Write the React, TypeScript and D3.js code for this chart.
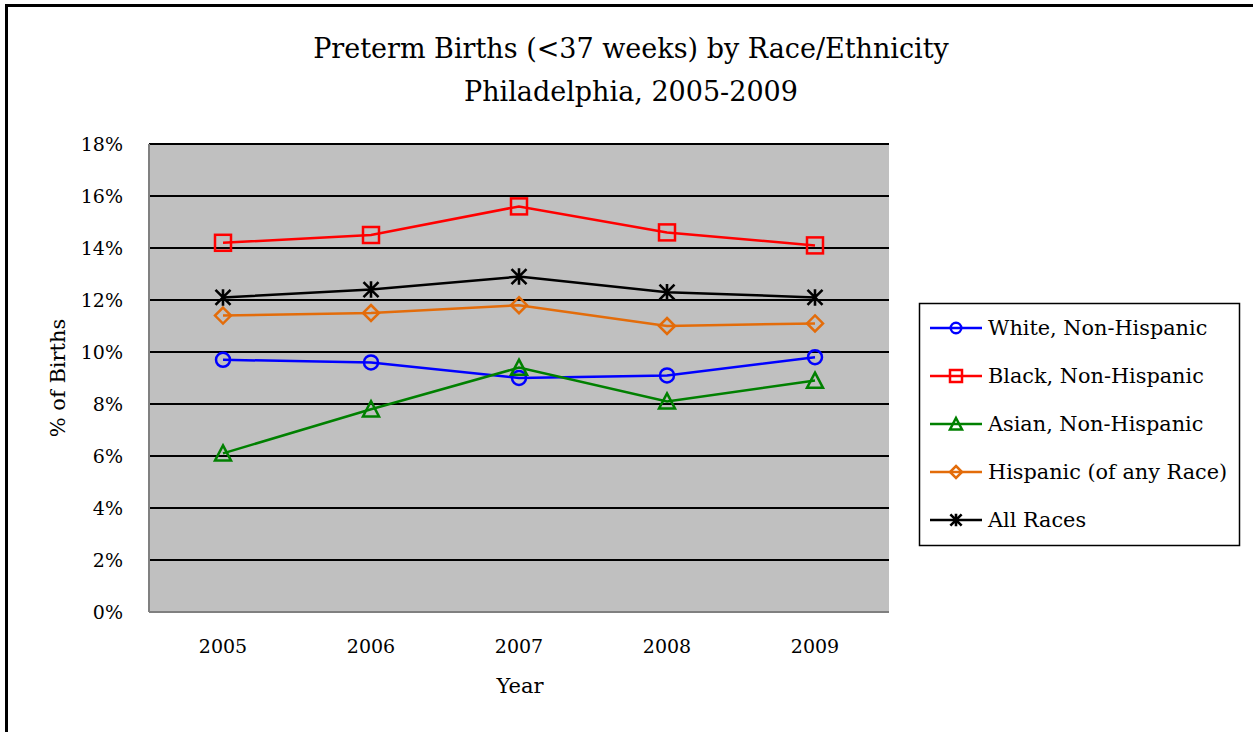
import React from "react";
import * as d3 from "d3";

const years = ["2005", "2006", "2007", "2008", "2009"];
const white = [9.7, 9.6, 9.0, 9.1, 9.8];
const black = [14.2, 14.5, 15.6, 14.6, 14.1];
const asian = [6.1, 7.8, 9.4, 8.1, 8.9];
const hispanic = [11.4, 11.5, 11.8, 11.0, 11.1];
const allRaces = [12.1, 12.4, 12.9, 12.3, 12.1];
const yTicks = [0, 2, 4, 6, 8, 10, 12, 14, 16, 18];

const seriesList = [
  { name: "White, Non-Hispanic", values: white, color: "#0000FF", marker: "circle" },
  { name: "Black, Non-Hispanic", values: black, color: "#FF0000", marker: "square" },
  { name: "Asian, Non-Hispanic", values: asian, color: "#008000", marker: "triangle" },
  { name: "Hispanic (of any Race)", values: hispanic, color: "#E36C0A", marker: "diamond" },
  { name: "All Races", values: allRaces, color: "#000000", marker: "star" },
];

const FONT = "'DejaVu Serif', serif";

function Marker({ type, x, y, color, s = 1 }: { type: string; x: number; y: number; color: string; s?: number }) {
  const sw = 2.5;
  if (type === "circle") return <circle cx={x} cy={y} r={7 * s} fill="none" stroke={color} strokeWidth={sw} />;
  if (type === "square") return <rect x={x - 8 * s} y={y - 8 * s} width={16 * s} height={16 * s} fill="none" stroke={color} strokeWidth={sw} />;
  if (type === "triangle") {
    const h = 8 * s;
    return <path d={`M${x},${y - h}L${x + 8 * s},${y + h * 0.9}L${x - 8 * s},${y + h * 0.9}Z`} fill="none" stroke={color} strokeWidth={sw} />;
  }
  if (type === "diamond") {
    const r = 8 * s;
    return <path d={`M${x},${y - r}L${x + r},${y}L${x},${y + r}L${x - r},${y}Z`} fill="none" stroke={color} strokeWidth={sw} />;
  }
  const r = 7.5 * s;
  return (
    <path
      d={`M${x - r},${y - r}L${x + r},${y + r}M${x - r},${y + r}L${x + r},${y - r}M${x},${y - r * 1.1}L${x},${y + r * 1.1}`}
      stroke={color}
      strokeWidth={2.6}
      fill="none"
    />
  );
}

export default function App() {
  const W = 1253, H = 732;
  const left = 149, right = 889, top = 144, bottom = 612;
  const x = d3.scaleBand().domain(years).range([left, right]);
  const y = d3.scaleLinear().domain([0, 18]).range([bottom, top]);
  const line = d3.line<number>().x((_, i) => x(years[i])! + x.bandwidth() / 2).y((d) => y(d));

  return (
    <svg width={W} height={H} style={{ position: "absolute", left: 0, top: 0, background: "#fff" }}>
      <rect x={0} y={0} width={W} height={H} fill="#fff" />
      <rect x={6.5} y={5.5} width={W + 20} height={H + 20} fill="none" stroke="#000" strokeWidth={3} />
      <text x={631} y={58} textAnchor="middle" fontFamily={FONT} fontSize={27} fill="#000">
        Preterm Births (&lt;37 weeks) by Race/Ethnicity
      </text>
      <text x={631} y={101} textAnchor="middle" fontFamily={FONT} fontSize={27} fill="#000">
        Philadelphia, 2005-2009
      </text>
      <rect x={left} y={top} width={right - left} height={bottom - top} fill="#C0C0C0" />
      {yTicks.map((t) => (
        <g key={t}>
          {t > 0 && <line x1={left} x2={right} y1={y(t)} y2={y(t)} stroke="#000" strokeWidth={2} />}
          <text x={123} y={y(t) + 7} textAnchor="end" fontFamily={FONT} fontSize={19} fill="#000">
            {t}%
          </text>
        </g>
      ))}
      <line x1={left} x2={left} y1={top} y2={bottom} stroke="#808080" strokeWidth={2} />
      <line x1={left} x2={right} y1={bottom} y2={bottom} stroke="#808080" strokeWidth={2} />
      {years.map((yr) => (
        <text key={yr} x={x(yr)! + x.bandwidth() / 2} y={653} textAnchor="middle" fontFamily={FONT} fontSize={19} fill="#000">
          {yr}
        </text>
      ))}
      <text x={520} y={693} textAnchor="middle" fontFamily={FONT} fontSize={21} fill="#000">
        Year
      </text>
      <text transform="translate(65,378) rotate(-90)" textAnchor="middle" fontFamily={FONT} fontSize={21} fill="#000">
        % of Births
      </text>
      {seriesList.map((s) => (
        <g key={s.name}>
          <path d={line(s.values)!} fill="none" stroke={s.color} strokeWidth={2.5} />
          {s.values.map((v, i) => (
            <Marker key={i} type={s.marker} x={x(years[i])! + x.bandwidth() / 2} y={y(v)} color={s.color} />
          ))}
        </g>
      ))}
      <rect x={919.5} y={303.5} width={320} height={242} fill="#fff" stroke="#000" strokeWidth={1.5} />
      {seriesList.map((s, i) => {
        const ly = 328 + i * 48;
        return (
          <g key={s.name}>
            <line x1={930} x2={982} y1={ly} y2={ly} stroke={s.color} strokeWidth={2.5} />
            <Marker type={s.marker} x={956} y={ly} color={s.color} s={0.75} />
            <text x={988} y={ly + 7} fontFamily={FONT} fontSize={20.8} fill="#000">
              {s.name}
            </text>
          </g>
        );
      })}
    </svg>
  );
}
